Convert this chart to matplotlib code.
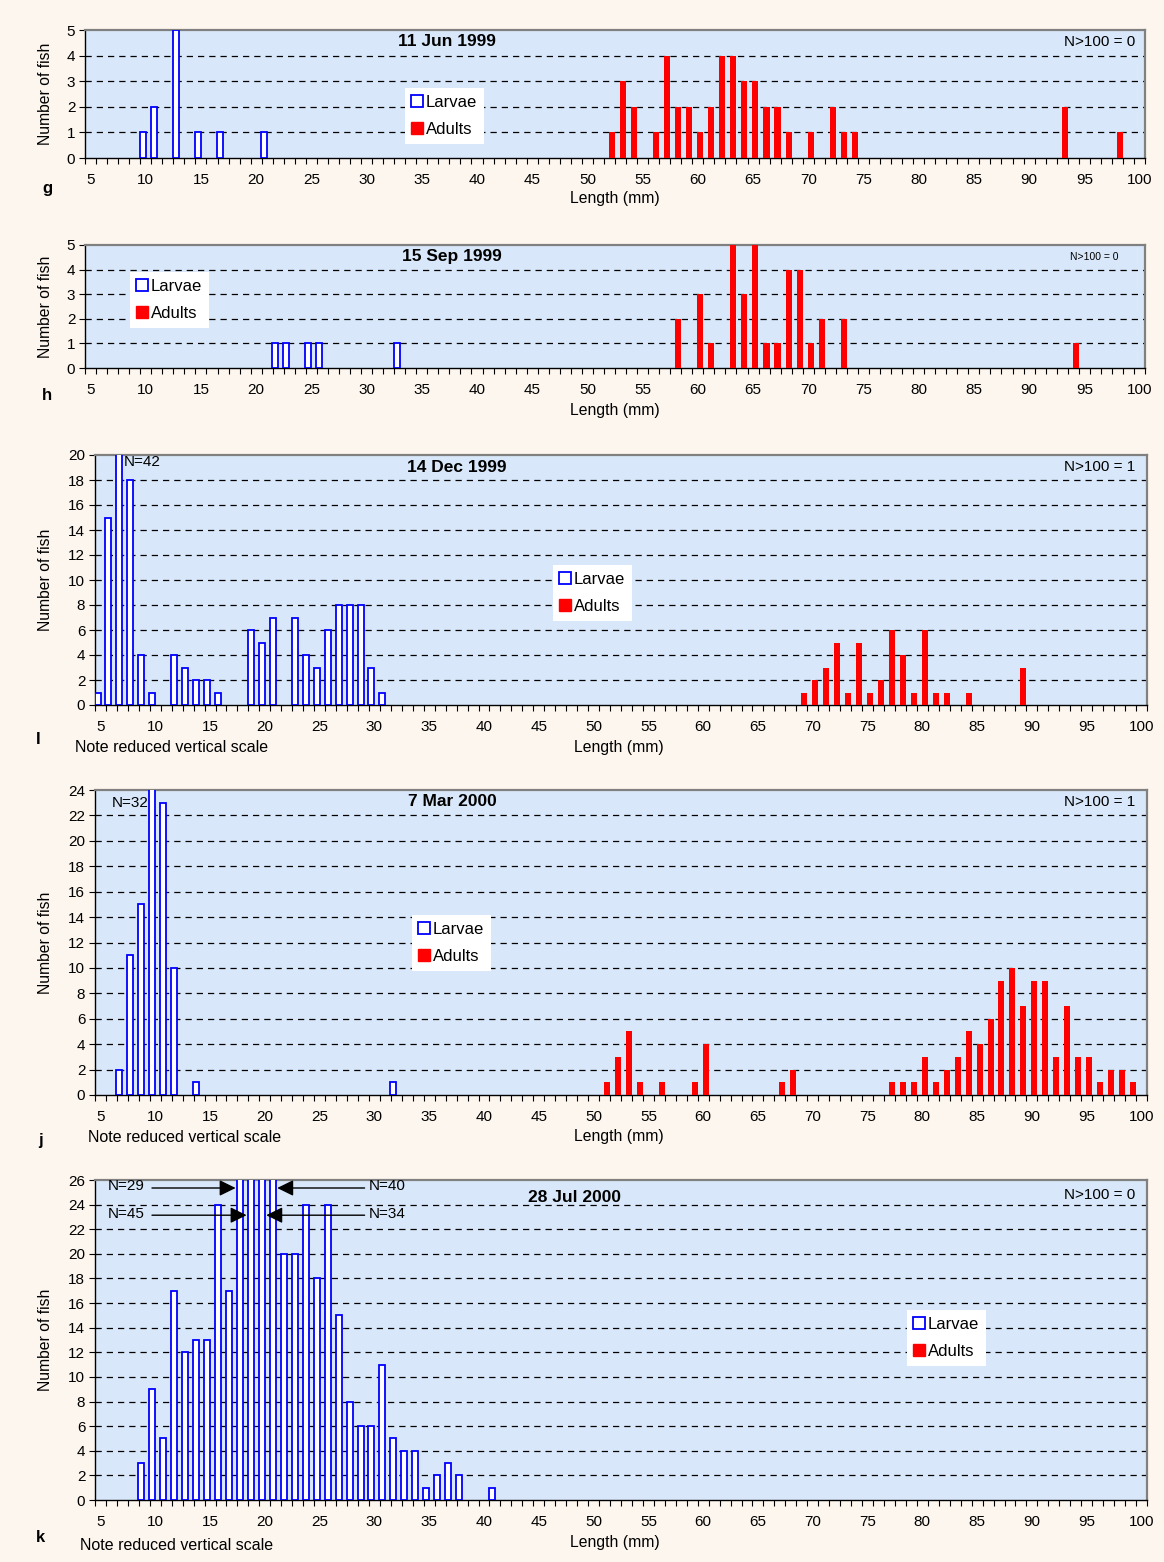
import matplotlib.pyplot as plt
import numpy as np
from matplotlib.lines import Line2D

plt.rcParams['font.family'] = ['Liberation Sans', 'DejaVu Sans']

# Length classes (mm) and number of fish caught on each sampling date
g_larvae_len = [10, 11, 13, 15, 17, 21]
g_larvae_n = [1, 2, 5, 1, 1, 1]
g_adult_len = [52, 53, 54, 56, 57, 58, 59, 60, 61, 62, 63, 64, 65, 66, 67, 68, 70, 72, 73, 74, 93, 98]
g_adult_n = [1, 3, 2, 1, 4, 2, 2, 1, 2, 4, 4, 3, 3, 2, 2, 1, 1, 2, 1, 1, 2, 1]

h_larvae_len = [22, 23, 25, 26, 33]
h_larvae_n = [1, 1, 1, 1, 1]
h_adult_len = [58, 60, 61, 63, 64, 65, 66, 67, 68, 69, 70, 71, 73, 94]
h_adult_n = [2, 3, 1, 5, 3, 5, 1, 1, 4, 4, 1, 2, 2, 1]

i_larvae_len = [5, 6, 7, 8, 9, 10, 12, 13, 14, 15, 16, 19, 20, 21, 23, 24, 25, 26, 27, 28, 29, 30, 31]
i_larvae_n = [1, 15, 42, 18, 4, 1, 4, 3, 2, 2, 1, 6, 5, 7, 7, 4, 3, 6, 8, 8, 8, 3, 1]
i_adult_len = [69, 70, 71, 72, 73, 74, 75, 76, 77, 78, 79, 80, 81, 82, 84, 89]
i_adult_n = [1, 2, 3, 5, 1, 5, 1, 2, 6, 4, 1, 6, 1, 1, 1, 3]

j_larvae_len = [7, 8, 9, 10, 11, 12, 14, 32]
j_larvae_n = [2, 11, 15, 32, 23, 10, 1, 1]
j_adult_len = [51, 52, 53, 54, 56, 59, 60, 67, 68, 77, 78, 79, 80, 81, 82, 83, 84, 85,
               86, 87, 88, 89, 90, 91, 92, 93, 94, 95, 96, 97, 98, 99]
j_adult_n = [1, 3, 5, 1, 1, 1, 4, 1, 2, 1, 1, 1, 3, 1, 2, 3, 5, 4,
             6, 9, 10, 7, 9, 9, 3, 7, 3, 3, 1, 2, 2, 1]

k_larvae_len = [9, 10, 11, 12, 13, 14, 15, 16, 17, 18, 19, 20, 21, 22, 23, 24, 25, 26,
                27, 28, 29, 30, 31, 32, 33, 34, 35, 36, 37, 38, 41]
k_larvae_n = [3, 9, 5, 17, 12, 13, 13, 24, 17, 29, 45, 34, 40, 20, 20, 24, 18, 24,
              15, 8, 6, 6, 11, 5, 4, 4, 1, 2, 3, 2, 1]
k_adult_len = []
k_adult_n = []

over_100 = {'g': 0, 'h': 0, 'i': 1, 'j': 1, 'k': 0}

W, H = 1164, 1562
PAGE = '#FDF6EE'
PLOT_BG = '#D8E8FA'
BLUE = '#0000FF'
RED = '#FF0000'
LARVAE_OFF, ADULT_OFF, BAR_W = -0.27, 0.22, 0.55
FS = 11

fig = plt.figure(figsize=(W / 100, H / 100), dpi=100, facecolor=PAGE)


def ftext(x, y, s, **kw):
    fig.text(x / W, 1 - y / H, s, **kw)


def draw_panel(box, larvae_len, larvae_n, adult_len, adult_n, ymax, ystep):
    l, t, r, b = box
    ax = fig.add_axes([l / W, 1 - b / H, (r - l) / W, (b - t) / H])
    ax.set_facecolor(PLOT_BG)
    ax.set_xlim(4.5, 100.5)
    ax.set_ylim(0, ymax)

    yticks = np.arange(0, ymax + 1, ystep)
    for y in yticks[1:-1]:
        ax.axhline(y, color='black', lw=0.9, ls=(0, (5, 4)), zorder=1)

    ax.bar(np.array(larvae_len) + LARVAE_OFF, larvae_n, width=BAR_W,
           facecolor='white', edgecolor=BLUE, lw=1.3, zorder=3)
    if adult_len:
        ax.bar(np.array(adult_len) + ADULT_OFF, adult_n, width=BAR_W,
               color=RED, lw=0, zorder=3)

    ax.set_yticks(yticks)
    ax.set_xticks(np.arange(5, 101, 5))
    ax.set_xticks(np.arange(4.5, 101, 1), minor=True)
    ax.tick_params(axis='x', which='major', length=0, pad=10.5, labelsize=FS)
    ax.tick_params(axis='x', which='minor', length=4, width=0.8, direction='out')
    ax.tick_params(axis='y', length=4, width=0.8, pad=3, labelsize=FS)
    for s in ('left', 'bottom'):
        ax.spines[s].set_color('black')
        ax.spines[s].set_linewidth(1.0)
    for s in ('top', 'right'):
        ax.spines[s].set_color('#808080')
        ax.spines[s].set_linewidth(1.6)
    return ax


def add_legend(ax, x, y):
    handles = [
        Line2D([], [], marker='s', ls='none', markersize=8.5, markerfacecolor='white',
               markeredgecolor=BLUE, markeredgewidth=1.3),
        Line2D([], [], marker='s', ls='none', markersize=8.5, markerfacecolor=RED,
               markeredgecolor=RED),
    ]
    leg = ax.legend(handles, ['Larvae', 'Adults'], loc='upper left',
                    bbox_to_anchor=(x / W, 1 - y / H), bbox_transform=fig.transFigure,
                    frameon=True, fancybox=False, facecolor='white', edgecolor='none',
                    framealpha=1, handlelength=0.6, handletextpad=0.25,
                    labelspacing=0.75, borderpad=0.4, borderaxespad=0, fontsize=12)
    leg.set_zorder(5)


panels = [
    dict(key='g', date='11 Jun 1999', box=(85, 30, 1145, 158), data=(g_larvae_len, g_larvae_n, g_adult_len, g_adult_n),
         ymax=5, ystep=1, title_x=447, leg=(405, 88), n100_x=1135, n100_fs=FS, letter=(47, 188),
         xlab=(615, 199), note=None),
    dict(key='h', date='15 Sep 1999', box=(85, 245, 1145, 368), data=(h_larvae_len, h_larvae_n, h_adult_len, h_adult_n),
         ymax=5, ystep=1, title_x=452, leg=(130, 272), n100_x=1119, n100_fs=7.5, letter=(47, 396),
         xlab=(615, 410), note=None),
    dict(key='i', date='14 Dec 1999', box=(95, 455, 1147, 705), data=(i_larvae_len, i_larvae_n, i_adult_len, i_adult_n),
         ymax=20, ystep=2, title_x=457, leg=(553, 565), n100_x=1135, n100_fs=FS, letter=(38, 740),
         xlab=(619, 747), note=(75, 748)),
    dict(key='j', date='7 Mar 2000', box=(95, 790, 1147, 1095), data=(j_larvae_len, j_larvae_n, j_adult_len, j_adult_n),
         ymax=24, ystep=2, title_x=452, leg=(412, 915), n100_x=1135, n100_fs=FS, letter=(40, 1140),
         xlab=(619, 1137), note=(88, 1138)),
    dict(key='k', date='28 Jul 2000', box=(95, 1180, 1147, 1500), data=(k_larvae_len, k_larvae_n, k_adult_len, k_adult_n),
         ymax=26, ystep=2, title_x=575, leg=(907, 1310), n100_x=1135, n100_fs=FS, letter=(40, 1537),
         xlab=(615, 1543), note=(80, 1545)),
]

letters = {'g': 'g', 'h': 'h', 'i': 'I', 'j': 'j', 'k': 'k'}
axes = {}
for p in panels:
    l, t, r, b = p['box']
    ax = draw_panel(p['box'], *p['data'], p['ymax'], p['ystep'])
    axes[p['key']] = ax
    add_legend(ax, *p['leg'])
    title_y = t + 12 if p['key'] != 'k' else t + 18
    ftext(p['title_x'], title_y, p['date'], ha='center', va='center', fontsize=12.5, fontweight='bold')
    ftext(p['n100_x'], t + 12 if p['key'] != 'k' else t + 15, f"N>100 = {over_100[p['key']]}",
          ha='right', va='center', fontsize=p['n100_fs'])
    ftext(45, (t + b) / 2, 'Number of fish', rotation=90, ha='center', va='center', fontsize=11.3)
    ftext(*p['letter'], letters[p['key']], ha='center', va='center', fontsize=12, fontweight='bold')
    ftext(*p['xlab'], 'Length (mm)', ha='center', va='center', fontsize=11.3)
    if p['note']:
        ftext(*p['note'], 'Note reduced vertical scale', ha='left', va='center', fontsize=11.5)

# counts of bars running off the reduced vertical scale
ax = axes['i']
n = i_larvae_n[i_larvae_len.index(7)]
ax.text(7 + LARVAE_OFF + BAR_W / 2 + 0.15, 0.97, f'N={n}', transform=ax.get_xaxis_transform(),
        ha='left', va='center', fontsize=FS)

ax = axes['j']
n = j_larvae_n[j_larvae_len.index(10)]
ax.text(10 + LARVAE_OFF - BAR_W / 2 - 0.1, 0.957, f'N={n}', transform=ax.get_xaxis_transform(),
        ha='right', va='center', fontsize=FS)

ax = axes['k']
tr = ax.get_xaxis_transform()
arrows = [
    # length class, row height, side of the label
    (18, 0.975, 'left'),
    (19, 0.89, 'left'),
    (21, 0.975, 'right'),
    (20, 0.89, 'right'),
]
for length, yf, side in arrows:
    n = k_larvae_n[k_larvae_len.index(length)]
    left_edge = length + LARVAE_OFF - BAR_W / 2
    right_edge = length + LARVAE_OFF + BAR_W / 2
    if side == 'left':
        tip, start = left_edge - 0.12, 9.7
        ax.text(5.7, yf + 0.005, f'N={n}', transform=tr, ha='left', va='center', fontsize=FS, zorder=6)
    else:
        tip, start = right_edge + 0.12, 29.1
        ax.text(29.5, yf + 0.005, f'N={n}', transform=tr, ha='left', va='center', fontsize=FS, zorder=6)
    ax.annotate('', xy=(tip, yf), xycoords=tr, xytext=(start, yf), textcoords=tr,
                arrowprops=dict(arrowstyle='-|>,head_length=0.55,head_width=0.27',
                                mutation_scale=18, color='black', lw=1.0,
                                shrinkA=0, shrinkB=0),
                zorder=6, annotation_clip=False)

fig.savefig('out.png', dpi=100, facecolor=PAGE)
